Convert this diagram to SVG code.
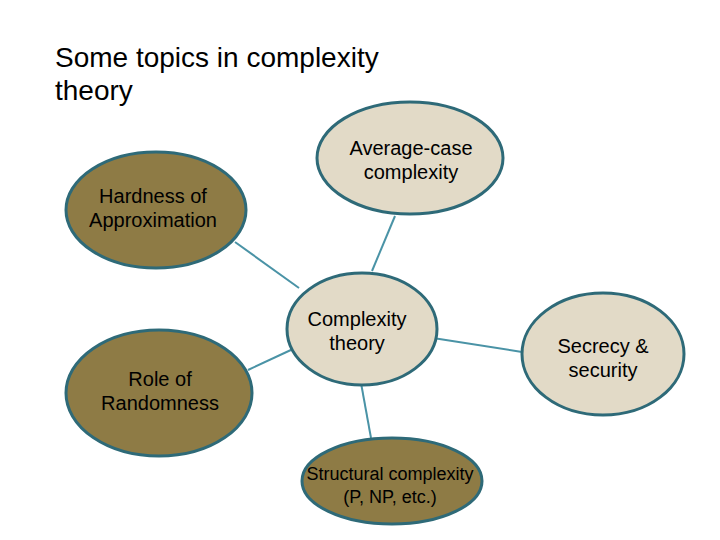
<svg xmlns="http://www.w3.org/2000/svg" width="720" height="540" viewBox="0 0 720 540">
<style>
.bg{fill:#ffffff}
.title{font-family:"Liberation Sans",Arial,sans-serif;font-size:28px;fill:#000}
.dark{fill:#8E7B45;stroke:#2E6A78;stroke-width:3}
.light{fill:#E2DAC7;stroke:#2E6A78;stroke-width:3}
.lbl{font-family:"Liberation Sans",Arial,sans-serif;font-size:20px;fill:#000;text-anchor:middle}
.sm{font-size:18px}
.conn line{stroke:#4A93A6;stroke-width:2}
</style>
<rect class="bg" width="720" height="540"/>
<text class="title" x="55" y="67">Some topics in complexity</text>
<text class="title" x="55" y="100">theory</text>
<g id="connectors" class="conn">
<line x1="235" y1="242" x2="299" y2="288"/>
<line x1="395" y1="216" x2="372" y2="271"/>
<line x1="248" y1="370" x2="293" y2="349"/>
<line x1="433" y1="338" x2="522" y2="352"/>
<line x1="361" y1="383" x2="371" y2="438"/>
</g>
<g id="hardness">
<ellipse class="dark" cx="156" cy="210" rx="90" ry="58"/>
<text class="lbl" x="153" y="203">Hardness of</text>
<text class="lbl" x="153" y="227">Approximation</text>
</g>
<g id="average">
<ellipse class="light" cx="410" cy="158" rx="93" ry="56"/>
<text class="lbl" x="411" y="155">Average-case</text>
<text class="lbl" x="411" y="179">complexity</text>
</g>
<g id="complexity">
<ellipse class="light" cx="362" cy="329" rx="75" ry="56"/>
<text class="lbl" x="357" y="326">Complexity</text>
<text class="lbl" x="357" y="350">theory</text>
</g>
<g id="secrecy">
<ellipse class="light" cx="603" cy="354" rx="81" ry="61"/>
<text class="lbl" x="603" y="353">Secrecy &amp;</text>
<text class="lbl" x="603" y="377">security</text>
</g>
<g id="randomness">
<ellipse class="dark" cx="159" cy="393" rx="93" ry="63"/>
<text class="lbl" x="160" y="386">Role of</text>
<text class="lbl" x="160" y="410">Randomness</text>
</g>
<g id="structural">
<ellipse class="dark" cx="392" cy="481" rx="90" ry="43"/>
<text class="lbl sm" x="390" y="480">Structural complexity</text>
<text class="lbl sm" x="390" y="503">(P, NP, etc.)</text>
</g>
</svg>
